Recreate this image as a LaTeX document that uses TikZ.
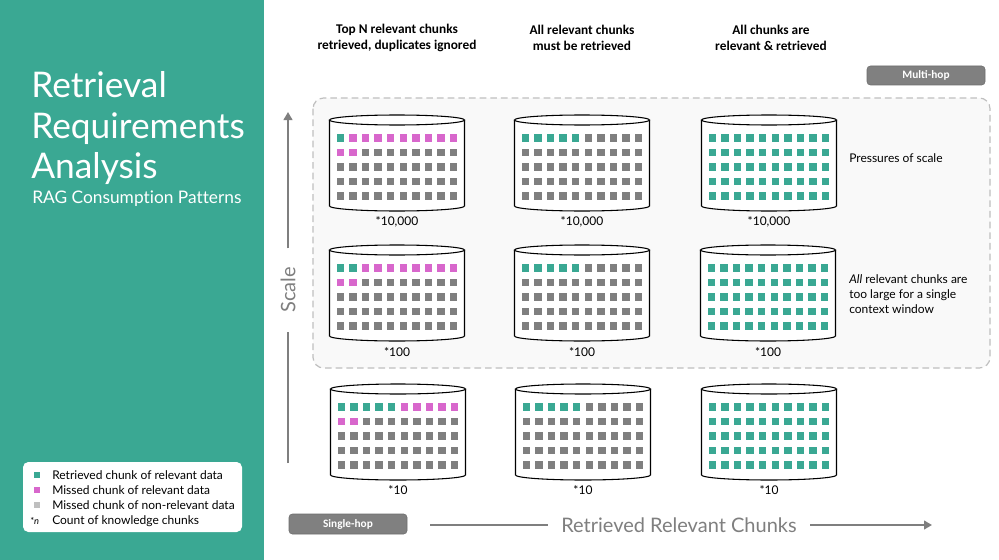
\documentclass[tikz,border=0pt]{standalone}
\usepackage{fontspec}
\setmainfont{Lato}[Ligatures=CommonOff]
\newfontfamily\headfont{Carlito}
\usetikzlibrary{arrows.meta}
\definecolor{panel}{HTML}{3AA893}
\definecolor{cteal}{HTML}{3AA893}
\definecolor{cpink}{HTML}{D867CC}
\definecolor{cgray}{HTML}{7F7F7F}
\definecolor{lgray}{HTML}{BFBFBF}
\definecolor{txtgray}{HTML}{7F7F7F}
\definecolor{boxfill}{HTML}{F9F9F9}
\definecolor{btngray}{HTML}{808080}

\newcommand\chunk[5]{\fill[#1] ({#2+(#4-4.5)*12.6-3.7},{#3+18+#5*14.5-3.7}) rectangle +(7.4,7.4);}
\newcommand\cylbody[2]{%
  \path[fill=white,draw=black,line width=0.8pt] (#1-67.5,#2) -- (#1-67.5,#2+86)
     arc[start angle=180,end angle=360,x radius=50.625pt,y radius=3.75pt] -- (#1+67.5,#2);
  \draw[fill=white,line width=0.8pt] (#1,#2) ellipse[x radius=50.625pt,y radius=3.75pt];
}
\newcommand\chunkgrid[3]{\foreach \r in {0,...,4}{\foreach \c in {0,...,9}{\chunk{#3}{#1}{#2}{\c}{\r}}}}
\newcommand\patA[3]{%
  \foreach \c in {0,...,9}{\ifnum\c<#3\relax \chunk{cteal}{#1}{#2}{\c}{0}\else \chunk{cpink}{#1}{#2}{\c}{0}\fi}%
  \chunk{cpink}{#1}{#2}{0}{1}\chunk{cpink}{#1}{#2}{1}{1}}
\newcommand\patB[2]{\foreach \c in {0,...,4}{\chunk{cteal}{#1}{#2}{\c}{0}}}

\tikzset{
  head/.style={font=\headfont\bfseries\fontsize{10}{12}\selectfont, align=center, inner sep=0pt},
  lbl/.style={font=\fontsize{9}{11}\selectfont, inner sep=0pt},
  note/.style={font=\fontsize{9}{11.25}\selectfont, align=left, anchor=west, inner sep=0pt},
  btn/.style={fill=btngray, draw=btngray!85!black, line width=0.4pt, rounded corners=2.5pt, text=white,
     font=\headfont\bfseries\fontsize{8.5}{10}\selectfont, minimum width=88.5pt, inner sep=0pt},
  axis/.style={draw=txtgray, line width=2.2pt},
  axlbl/.style={font=\fontsize{15}{18}\selectfont, text=txtgray},
  title/.style={font=\fontsize{26.5}{30}\selectfont, text=white, anchor=base west, inner sep=0pt},
  legtxt/.style={font=\fontsize{9}{11}\selectfont, anchor=west, inner sep=0pt, text height=1.6ex, text depth=0.3ex},
}

\begin{document}
\begin{tikzpicture}[x=0.75pt,y=-0.75pt]
\useasboundingbox (0,0) rectangle (999,560);
\fill[white] (0,0) rectangle (999,560);
\fill[panel] (0,0) rectangle (264,560);

% title
\node[title] (t1) at (31,98) {Retrieval};
\node[title] (t2) at (31,138) {Requirements};
\node[title] (t3) at (31,178) {Analysis};
\node[title, font=\fontsize{13}{15}\selectfont] (t4) at (32,203) {RAG Consumption Patterns};

% legend
\path[fill=white, rounded corners=4pt] (23,462) rectangle (242,532);
\fill[cteal] (34,472) rectangle +(6,6);
\fill[cpink] (34,487) rectangle +(6,6);
\fill[lgray] (34,502) rectangle +(6,6);
\node[legtxt] (l1) at (52,475) {Retrieved chunk of relevant data};
\node[legtxt] (l2) at (52,490) {Missed chunk of relevant data};
\node[legtxt] (l3) at (52,505) {Missed chunk of non-relevant data};
\node[legtxt, font=\fontsize{7}{8}\selectfont] (l4s) at (30,520) {*\textit{n}};
\node[legtxt] (l4) at (52,520) {Count of knowledge chunks};

% headers
\node[head] (h1) at (397,38) {Top N relevant chunks\\retrieved, duplicates ignored};
\node[head] (h2) at (582,38) {All relevant chunks\\must be retrieved};
\node[head] (h3) at (771,38) {All chunks are\\relevant \& retrieved};

% buttons
\node[btn, minimum height=14.25pt] (multi) at (926,75.5) {Multi-hop};
\node[btn, minimum height=15pt] (single) at (348,524) {Single-hop};

% dashed multi-hop region
\draw[draw=lgray, fill=boxfill, rounded corners=8pt, line width=0.9pt, dash pattern=on 5pt off 3pt] (313,98) rectangle (990,368);

% row 1 (*10,000)
\cylbody{397}{120}\chunkgrid{397}{120}{cgray}\patA{397}{120}{1}
\cylbody{582}{120}\chunkgrid{582}{120}{cgray}\patB{582}{120}
\cylbody{769}{120}\chunkgrid{769}{120}{cteal}
\node[lbl] (n11) at (397,222) {*10,000};
\node[lbl] (n12) at (582,222) {*10,000};
\node[lbl] (n13) at (769,222) {*10,000};

% row 2 (*100)
\cylbody{397}{250}\chunkgrid{397}{250}{cgray}\patA{397}{250}{2}
\cylbody{582}{250}\chunkgrid{582}{250}{cgray}\patB{582}{250}
\cylbody{768}{250}\chunkgrid{768}{250}{cteal}
\node[lbl] (n21) at (397,352) {*100};
\node[lbl] (n22) at (582,352) {*100};
\node[lbl] (n23) at (768,352) {*100};

% row 3 (*10)
\cylbody{398}{389}\chunkgrid{398}{389}{cgray}\patA{398}{389}{5}
\cylbody{583}{389}\chunkgrid{583}{389}{cgray}\patB{583}{389}
\cylbody{769}{389}\chunkgrid{769}{389}{cteal}
\node[lbl] (n31) at (398,490) {*10};
\node[lbl] (n32) at (583,490) {*10};
\node[lbl] (n33) at (769,490) {*10};

% notes
\node[note] (p1) at (849,158) {Pressures of scale};
\node[note] (p2) at (849,294) {\textit{All} relevant chunks are\\too large for a single\\context window};

% scale axis
\coordinate (sbot) at (288,463);
\coordinate (stop) at (288,112);
\node[axlbl, rotate=90, inner xsep=14pt, inner ysep=0pt] (scale) at (288,290) {Scale};
\draw[axis] (sbot) -- (scale.west);
\draw[axis, -{Triangle[length=6pt,width=6.5pt]}] (scale.east) -- (stop);

% retrieved axis
\coordinate (hl) at (430,525);
\coordinate (hr) at (932,525);
\node[axlbl, inner xsep=10pt, inner ysep=0pt] (rrc) at (679,525) {Retrieved Relevant Chunks};
\draw[axis] (hl) -- (rrc.west);
\draw[axis, -{Triangle[length=6pt,width=6.5pt]}] (rrc.east) -- (hr);
\end{tikzpicture}
\end{document}
